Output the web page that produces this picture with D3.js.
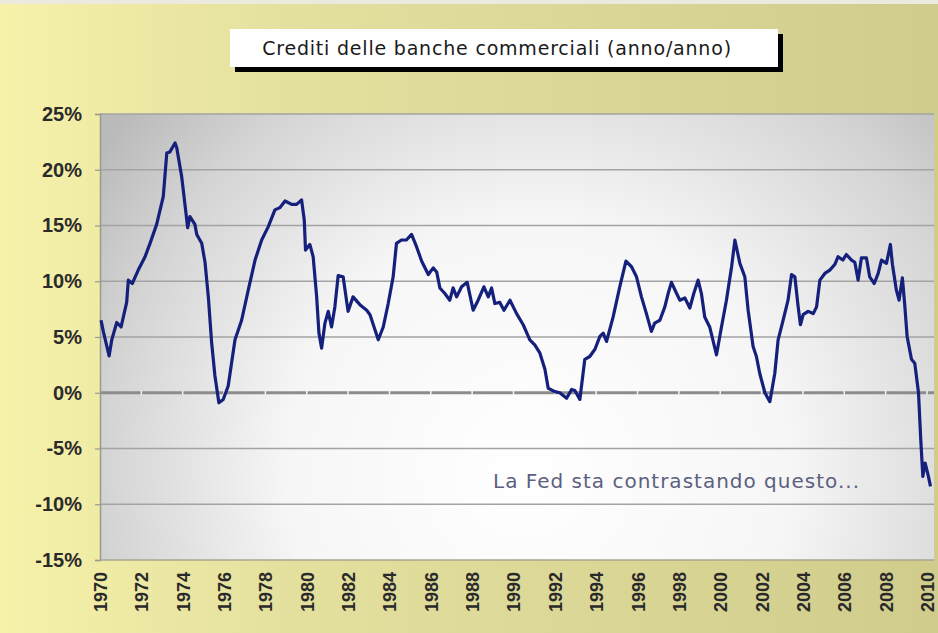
<!DOCTYPE html>
<html>
<head>
<meta charset="utf-8">
<script src="https://cdn.jsdelivr.net/npm/d3@7/dist/d3.min.js"></script>
<style>
  html, body { margin: 0; padding: 0; background: #e0dc9c; }
  svg { display: block; }
</style>
</head>
<body>
<svg id="chart" width="938" height="633"></svg>
<script>
// Commercial bank credit, year-over-year change (%)
const years = [
  1970.05, 1970.16, 1970.44, 1970.57, 1970.81, 1971.02, 1971.29, 1971.37, 1971.56, 1971.85,
  1972.18, 1972.42, 1972.74, 1973.06, 1973.23, 1973.38, 1973.63, 1973.71, 1973.95, 1974.14,
  1974.24, 1974.35, 1974.59, 1974.68, 1974.92, 1975.08, 1975.24, 1975.40, 1975.56, 1975.75,
  1975.96, 1976.20, 1976.53, 1976.85, 1977.17, 1977.50, 1977.82, 1978.14, 1978.46, 1978.70,
  1978.95, 1979.27, 1979.51, 1979.75, 1979.88, 1979.94, 1980.15, 1980.31, 1980.48, 1980.59,
  1980.72, 1980.88, 1981.04, 1981.20, 1981.36, 1981.52, 1981.76, 1982.00, 1982.24, 1982.57,
  1982.90, 1983.06, 1983.46, 1983.70, 1983.94, 1984.18, 1984.34, 1984.58, 1984.82, 1985.07,
  1985.31, 1985.56, 1985.88, 1986.12, 1986.29, 1986.44, 1986.68, 1986.92, 1987.08, 1987.25,
  1987.49, 1987.76, 1988.05, 1988.29, 1988.57, 1988.78, 1988.94, 1989.10, 1989.34, 1989.54,
  1989.83, 1990.15, 1990.47, 1990.79, 1991.03, 1991.28, 1991.52, 1991.68, 1992.00, 1992.24,
  1992.57, 1992.81, 1992.97, 1993.21, 1993.45, 1993.69, 1993.94, 1994.18, 1994.34, 1994.50,
  1994.82, 1995.14, 1995.44, 1995.71, 1995.95, 1996.19, 1996.43, 1996.67, 1996.83, 1997.08,
  1997.32, 1997.48, 1997.64, 1997.89, 1998.05, 1998.29, 1998.53, 1998.72, 1998.93, 1999.09,
  1999.25, 1999.49, 1999.82, 2000.06, 2000.30, 2000.55, 2000.71, 2000.95, 2001.19, 2001.35,
  2001.59, 2001.75, 2001.91, 2002.16, 2002.40, 2002.64, 2002.80, 2003.04, 2003.28, 2003.45,
  2003.61, 2003.77, 2003.88, 2004.01, 2004.25, 2004.50, 2004.66, 2004.82, 2005.06, 2005.30,
  2005.54, 2005.70, 2005.93, 2006.10, 2006.35, 2006.51, 2006.67, 2006.83, 2007.07, 2007.23,
  2007.45, 2007.64, 2007.80, 2008.04, 2008.23, 2008.33, 2008.52, 2008.65, 2008.81, 2008.92,
  2009.04, 2009.25, 2009.41, 2009.59, 2009.70, 2009.80, 2009.91, 2010.07, 2010.17
];
const growth = [
  6.5, 5.5, 3.3, 4.75, 6.3, 5.9, 8.1, 10.1, 9.8, 11.0,
  12.2, 13.4, 15.1, 17.6, 21.5, 21.6, 22.4, 22.0, 19.4, 16.4,
  14.8, 15.8, 15.1, 14.2, 13.4, 11.7, 8.6, 4.5, 1.5, -0.9,
  -0.6, 0.6, 4.75, 6.5, 9.2, 11.9, 13.7, 14.9, 16.4, 16.6,
  17.2, 16.9, 16.9, 17.3, 15.5, 12.8, 13.3, 12.2, 8.6, 5.35,
  4.0, 6.25, 7.3, 5.9, 7.7, 10.5, 10.4, 7.3, 8.6, 7.9,
  7.4, 7.0, 4.75, 5.9, 8.0, 10.4, 13.4, 13.7, 13.7, 14.2,
  13.1, 11.8, 10.6, 11.2, 10.8, 9.4, 8.9, 8.3, 9.4, 8.6,
  9.5, 9.9, 7.4, 8.3, 9.5, 8.6, 9.4, 8.0, 8.1, 7.4,
  8.3, 7.1, 6.1, 4.75, 4.3, 3.55, 2.1, 0.4, 0.1, 0.0,
  -0.5, 0.3, 0.2, -0.6, 3.0, 3.25, 3.9, 5.05, 5.35, 4.6,
  6.8, 9.5, 11.8, 11.3, 10.4, 8.6, 7.1, 5.5, 6.25, 6.5,
  7.7, 8.9, 9.9, 8.9, 8.3, 8.5, 7.6, 8.9, 10.1, 8.9,
  6.8, 5.9, 3.4, 5.9, 8.3, 11.3, 13.7, 11.6, 10.4, 7.4,
  4.15, 3.25, 1.75, 0.0, -0.8, 1.75, 4.75, 6.5, 8.3, 10.6,
  10.4, 7.7, 6.1, 7.0, 7.3, 7.1, 7.7, 10.1, 10.7, 11.0,
  11.5, 12.2, 11.9, 12.4, 11.9, 11.7, 10.1, 12.1, 12.1, 10.4,
  9.8, 10.7, 11.9, 11.6, 13.3, 11.5, 9.2, 8.3, 10.3, 8.0,
  5.05, 3.0, 2.65, 0.0, -4.2, -7.5, -6.3, -7.5, -8.4
];
const yTicks = [25, 20, 15, 10, 5, 0, -5, -10, -15];
const xTickYears = d3.range(1970, 2011, 2);
const titleText = "Crediti delle banche commerciali (anno/anno)";
const noteText = "La Fed sta contrastando questo...";

const svg = d3.select("#chart");
const W = 938, H = 633;
const plot = { left: 100, right: 934, top: 114, bottom: 560 };

const defs = svg.append("defs");

// page background: pale yellow on the left shading to olive on the right
const bg = defs.append("linearGradient").attr("id", "bgGrad")
  .attr("x1", "0%").attr("y1", "0%").attr("x2", "100%").attr("y2", "0%");
bg.append("stop").attr("offset", "0%").attr("stop-color", "#f6f2aa");
bg.append("stop").attr("offset", "30%").attr("stop-color", "#e4e09e");
bg.append("stop").attr("offset", "100%").attr("stop-color", "#d0cc8c");

// plot area: white glow low in the middle, grey towards the corners
const pg = defs.append("radialGradient").attr("id", "plotGrad")
  .attr("gradientUnits", "userSpaceOnUse")
  .attr("cx", 560).attr("cy", 470).attr("r", 560)
  .attr("fx", 520).attr("fy", 470);
pg.append("stop").attr("offset", "0%").attr("stop-color", "#ffffff");
pg.append("stop").attr("offset", "45%").attr("stop-color", "#f6f6f6");
pg.append("stop").attr("offset", "80%").attr("stop-color", "#d4d4d4");
pg.append("stop").attr("offset", "100%").attr("stop-color", "#bababa");

svg.append("rect").attr("width", W).attr("height", H).attr("fill", "url(#bgGrad)");
svg.append("rect").attr("width", W).attr("height", 4).attr("fill", "#eceade");

const x = d3.scaleLinear().domain([1970, 2010.34]).range([plot.left, plot.right]);
const y = d3.scaleLinear().domain([-15, 25]).range([plot.bottom, plot.top]);

svg.append("rect")
  .attr("x", plot.left).attr("y", plot.top)
  .attr("width", plot.right - plot.left).attr("height", plot.bottom - plot.top)
  .attr("fill", "url(#plotGrad)");

// horizontal gridlines
svg.append("g").selectAll("line").data(yTicks.filter(d => d !== 0 && d !== -15)).join("line")
  .attr("x1", plot.left).attr("x2", plot.right)
  .attr("y1", d => y(d)).attr("y2", d => y(d))
  .attr("stroke", "#a3a3a3").attr("stroke-width", 1.4);

// zero line carrying the year tick marks
svg.append("line")
  .attr("x1", plot.left).attr("x2", plot.right)
  .attr("y1", y(0)).attr("y2", y(0))
  .attr("stroke", "#8c8c8c").attr("stroke-width", 3.2);
svg.append("g").selectAll("line").data(xTickYears.slice(1)).join("line")
  .attr("x1", d => x(d)).attr("x2", d => x(d))
  .attr("y1", y(0) - 2).attr("y2", y(0) + 2)
  .attr("stroke", "#f4f4f4").attr("stroke-width", 1.5);

// left axis with outward ticks
const yAxis = d3.axisLeft(y).tickValues(yTicks).tickSize(5).tickFormat(d => d + "%");
const yg = svg.append("g").attr("transform", `translate(${plot.left},0)`).call(yAxis);
yg.select(".domain").attr("stroke", "#9a9a88").attr("stroke-width", 1.5);
yg.selectAll(".tick line").attr("stroke", "#9a9a88").attr("stroke-width", 1.2);
yg.selectAll(".tick text")
  .attr("x", -18)
  .attr("fill", "#2a2a2a")
  .style("font-family", "Arial, 'Liberation Sans', sans-serif")
  .style("font-weight", "bold")
  .style("font-size", "20px");

// bottom edge of the plot and rotated year labels
svg.append("line")
  .attr("x1", plot.left).attr("x2", plot.right)
  .attr("y1", plot.bottom).attr("y2", plot.bottom)
  .attr("stroke", "#a8a690").attr("stroke-width", 1.5);
const xAxis = d3.axisBottom(x).tickValues(xTickYears).tickSize(0).tickFormat(d3.format("d"));
const xg = svg.append("g").attr("transform", `translate(0,${plot.bottom})`).call(xAxis);
xg.select(".domain").remove();
xg.selectAll(".tick text")
  .attr("transform", "rotate(-90)")
  .attr("x", -12).attr("y", 0).attr("dy", "0.36em")
  .attr("text-anchor", "end")
  .attr("fill", "#2a2a2a")
  .style("font-family", "Arial, 'Liberation Sans', sans-serif")
  .style("font-weight", "bold")
  .style("font-size", "18px");

// the credit growth line
const line = d3.line().x((d, i) => x(years[i])).y(d => y(d));
svg.append("path")
  .datum(growth)
  .attr("d", line)
  .attr("fill", "none")
  .attr("stroke", "#14207c")
  .attr("stroke-width", 3.2)
  .attr("stroke-linejoin", "round");

// annotation
svg.append("text")
  .attr("x", 493).attr("y", 488)
  .attr("fill", "#5c6080")
  .style("font-family", "'DejaVu Sans', sans-serif")
  .style("font-size", "20px")
  .style("letter-spacing", "1px")
  .text(noteText);

// title box with hard black shadow
svg.append("rect").attr("x", 235).attr("y", 34).attr("width", 548).attr("height", 38).attr("fill", "#000");
svg.append("rect").attr("x", 230).attr("y", 29).attr("width", 548).attr("height", 38).attr("fill", "#ffffff");
svg.append("text")
  .attr("x", 497).attr("y", 55)
  .attr("text-anchor", "middle")
  .attr("fill", "#1a1a1a")
  .style("font-family", "'DejaVu Sans', sans-serif")
  .style("font-size", "19px")
  .style("letter-spacing", "0.8px")
  .text(titleText);
</script>
</body>
</html>
